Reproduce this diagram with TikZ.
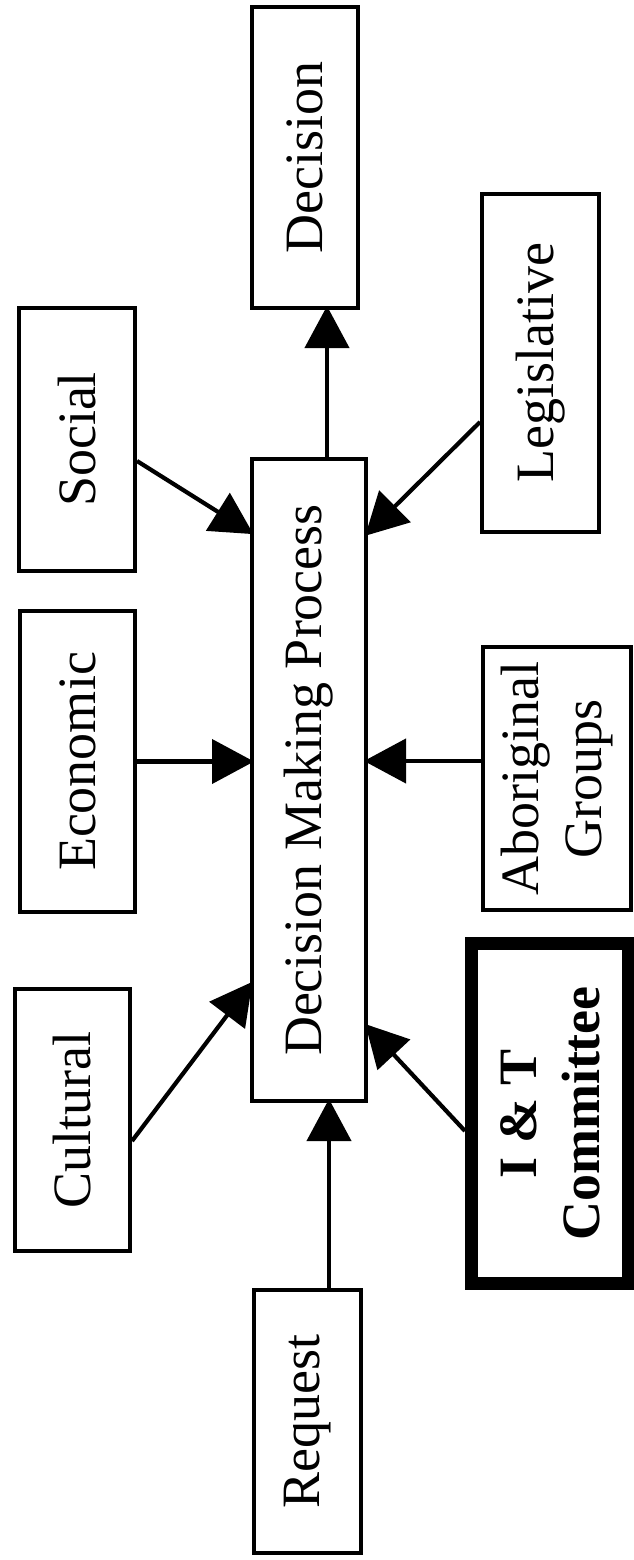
\documentclass[tikz,border=0pt]{standalone}
\usepackage{fontspec}
\setmainfont{Liberation Serif}
\usepackage{tikz}
\usetikzlibrary{arrows.meta}
\tikzset{
  boxnode/.style = {align=center, inner sep=0pt, text centered, rotate=90,
    font=\fontsize{54}{63}\selectfont},
  bx_n/.style = {boxnode, rectangle, black, draw=black, line width=4pt},% plain box
  bx_t/.style = {boxnode, rectangle, black, draw=black, line width=13pt,
    font=\fontsize{54}{63}\selectfont\bfseries},% committee box
  arr/.style = {line width=4.2pt, shorten >=-4pt, -{Triangle[length=42pt,width=44pt]}}% connector
}

\begin{document}
\begin{tikzpicture}[x=1pt,y=-1pt]
\useasboundingbox (0,0) rectangle (633,1560);
% rotated boxes: minimum width is the vertical side
\node [bx_n, minimum width=301, minimum height=106] (decision) at (305,157.5) {Decision};
\node [bx_n, minimum width=263, minimum height=116] (social) at (77,439.5) {Social};
\node [bx_n, minimum width=338, minimum height=117] (legis) at (540.5,363) {Legislative};
\node [bx_n, minimum width=301, minimum height=115] (econ) at (77.5,761.5) {Economic};
\node [bx_n, minimum width=263, minimum height=148] (abo) at (557,778.5) {Aboriginal\\Groups};
\node [bx_n, minimum width=262, minimum height=115] (cult) at (72.5,1120) {Cultural};
\node [bx_n, minimum width=642, minimum height=114] (dmp) at (309,780) {Decision Making Process};
\node [bx_t, minimum width=340, minimum height=157] (itc) at (550,1113.5) {I \& T\\Committee};
\node [bx_n, minimum width=263, minimum height=107] (req) at (307.5,1421.5) {Request};

\draw [arr] ([xshift=18pt]dmp.east) -- ([xshift=22pt]decision.west);
\draw [arr] ([yshift=-21.5pt]social.south) -- ([yshift=248pt]dmp.north);
\draw [arr] ([yshift=-59pt]legis.north) -- ([yshift=247pt]dmp.south);
\draw [arr] (econ.south) -- (econ.south -| dmp.north);
\draw [arr] ([yshift=17.5pt]abo.north) -- ([yshift=19pt]dmp.south);
\draw [arr] ([yshift=-21pt]cult.south) -- ([yshift=-205pt]dmp.north);
\draw [arr] ([yshift=-17.5pt]itc.north) -- ([yshift=-247pt]dmp.south);
\draw [arr] ([xshift=21.5pt]req.east) -- ([xshift=20pt]dmp.west);
\end{tikzpicture}
\end{document}
